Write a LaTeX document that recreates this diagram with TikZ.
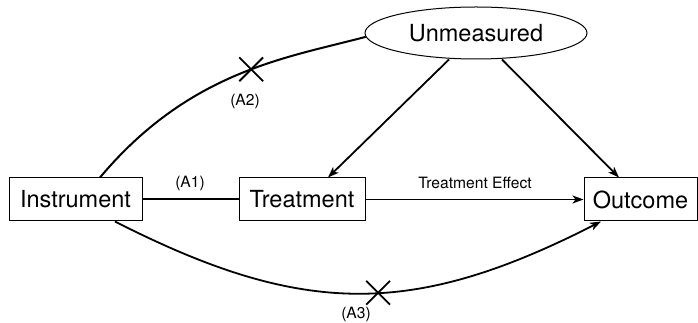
\documentclass[tikz,border=0pt]{standalone}
\usepackage{fontspec}
\setmainfont{TeX Gyre Heros}
\usetikzlibrary{arrows.meta,shapes.geometric,shapes.misc}
\begin{document}
\begin{tikzpicture}[x=1pt,y=1pt,
  box/.style={draw, line width=1pt, minimum height=43pt, inner sep=0pt, font=\fontsize{23.5}{28}\selectfont},
  lab/.style={font=\fontsize{15.6}{18}\selectfont, inner sep=0pt},
  edge/.style={line width=2pt},
  arr/.style={line width=1.8pt, -{Stealth[length=11pt,width=8pt,inset=3pt]}},
  xmark/.style={cross out, draw, line width=1.8pt, minimum width=22pt, minimum height=22pt, inner sep=0pt}
]
\useasboundingbox (0,0) rectangle (698,323);

\node[box, minimum width=133pt] (ins) at (75.5,123.5) {Instrument};
\node[box, minimum width=126pt] (trt) at (302,123.5) {Treatment};
\node[box, minimum width=113pt] (out) at (640.5,123.5) {Outcome};
\node[ellipse, draw, line width=1pt, minimum width=222pt, minimum height=52pt, inner sep=0pt, font=\fontsize{23.5}{28}\selectfont] (unm) at (476,290) {Unmeasured};

\draw[edge] (ins.east) -- (trt.west);
\draw[arr] (trt.east) -- (out.west);
\draw[arr] ([xshift=-27pt]unm.south) -- ([xshift=26pt]trt.north);
\draw[arr] ([xshift=26pt]unm.south) -- ([xshift=-21.5pt]out.north);
\draw[edge] ([xshift=24.5pt]ins.north) .. controls +(50:140) and +(195:80) .. (unm.182) node[pos=0.55, xmark] (x2) {};
\draw[arr] ([xshift=39.5pt]ins.south) .. controls +(-27:211) and +(207:211) .. ([xshift=-39.5pt]out.south) node[pos=0.545, xmark] (x3) {};

\node[lab] (a1) at (190,140) {(A1)};
\node[lab] (te) at (475,140) {Treatment Effect};
\node[lab] (a2) at (245,222) {(A2)};
\node[lab] (a3) at (356,9) {(A3)};
\end{tikzpicture}
\end{document}
